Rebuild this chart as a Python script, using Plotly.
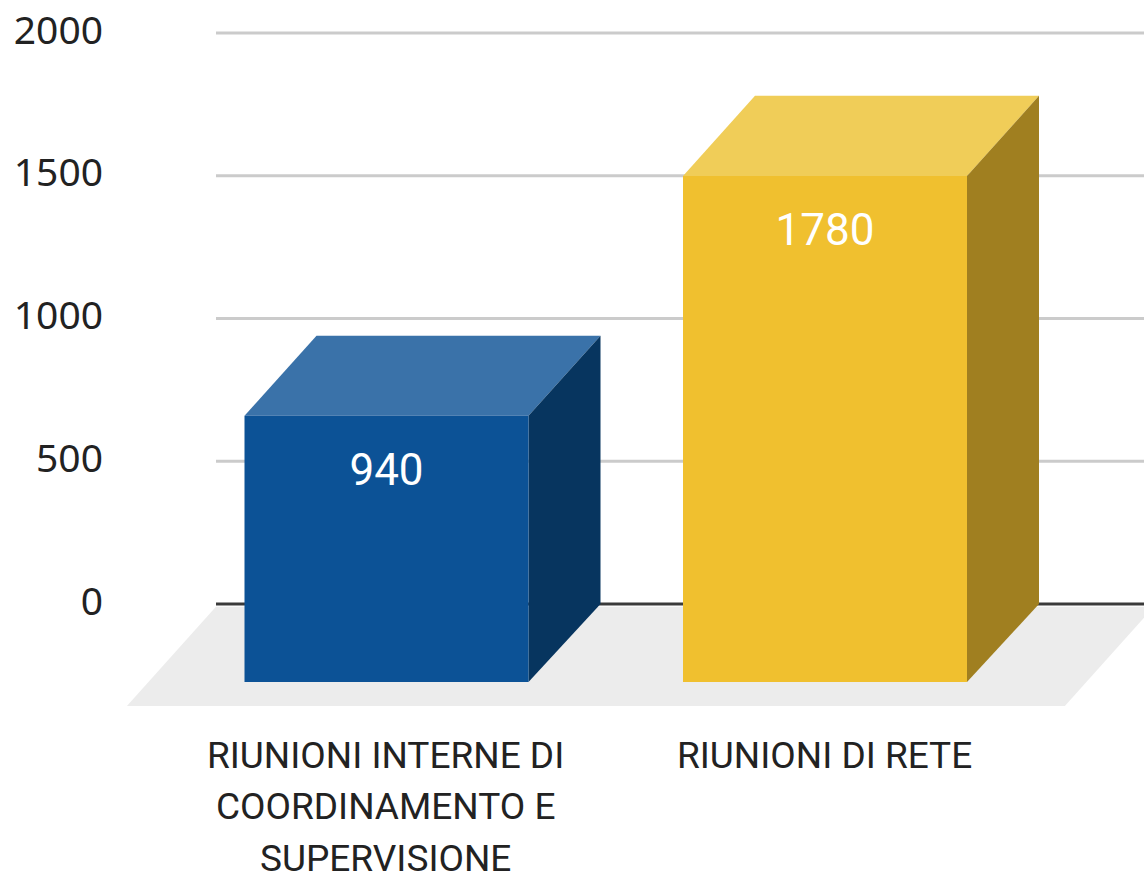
import plotly.graph_objects as go

categories = [["RIUNIONI INTERNE DI", "COORDINAMENTO E", "SUPERVISIONE"], ["RIUNIONI DI RETE"]]
values = [940, 1780]
y_ticks = [0, 500, 1000, 1500, 2000]

front_colors = ["#0c5296", "#f0c02f"]
side_colors = ["#07355f", "#a07f20"]
top_colors = ["#3a72a9", "#f0cd58"]

PX_PER_CAT = 438.5
PX_PER_VAL = 0.2855
WIDTH, HEIGHT = 1144, 881
BAR_W = 284 / PX_PER_CAT
DEPTH_X = 72 / PX_PER_CAT
DEPTH_TOP = 281
DEPTH_BOTTOM = 273

x_range = [-386.5 / PX_PER_CAT, (WIDTH - 386.5) / PX_PER_CAT]
y_range = [(604 - HEIGHT) / PX_PER_VAL, 604 / PX_PER_VAL]


def poly(xs, ys, color):
    return go.Scatter(x=xs + xs[:1], y=ys + ys[:1], mode="lines", fill="toself",
                      fillcolor=color, line=dict(width=0), hoverinfo="skip", showlegend=False)


fig = go.Figure()

# back-wall gridlines
GRID_LEFT = (216 - 386.5) / PX_PER_CAT
for t in y_ticks[1:]:
    fig.add_trace(go.Scatter(x=[GRID_LEFT, x_range[1]], y=[t, t], mode="lines",
                             line=dict(color="#cbcbcb", width=3), hoverinfo="skip", showlegend=False))

# floor
FLOOR_BACK = -10
FLOOR_FRONT = -357
fig.add_trace(poly([-0.389, 1.750, 1.547, -0.592],
                   [FLOOR_BACK, FLOOR_BACK, FLOOR_FRONT, FLOOR_FRONT], "#ececec"))
fig.add_trace(go.Scatter(x=[GRID_LEFT, x_range[1]], y=[0, 0], mode="lines",
                         line=dict(color="#3a3a3a", width=3), hoverinfo="skip", showlegend=False))

# 3D bars: the back face carries the value, the front face is offset by the depth
for i, v in enumerate(values):
    l, r = i - BAR_W / 2, i + BAR_W / 2
    fy0, fy1 = -DEPTH_BOTTOM, v - DEPTH_TOP
    fig.add_trace(poly([l, r, r + DEPTH_X, l + DEPTH_X], [fy1, fy1, v, v], top_colors[i]))
    fig.add_trace(poly([r, r + DEPTH_X, r + DEPTH_X, r], [fy0, 0, v, fy1], side_colors[i]))
    fig.add_trace(poly([l, r, r, l], [fy0, fy0, fy1, fy1], front_colors[i]))

# data labels
fig.add_trace(go.Scatter(x=list(range(len(values))), y=[v - DEPTH_TOP - 204 for v in values],
                         mode="text", text=[str(v) for v in values],
                         textposition="middle center",
                         textfont=dict(family="Roboto", size=44, color="#ffffff"),
                         hoverinfo="skip", showlegend=False))

# category labels, one annotation per line to keep the wide line spacing
annotations = []
for i, lines in enumerate(categories):
    for j, line in enumerate(lines):
        annotations.append(dict(x=i - 0.002, y=1 - (755 + j * 51.5) / HEIGHT, xref="x", yref="paper",
                                text=line, showarrow=False, xanchor="center", yanchor="middle",
                                font=dict(family="Roboto", size=37, color="#222222")))

fig.update_layout(
    width=WIDTH, height=HEIGHT,
    margin=dict(l=0, r=0, t=0, b=0),
    paper_bgcolor="#ffffff", plot_bgcolor="#ffffff",
    showlegend=False,
    annotations=annotations,
    xaxis=dict(range=x_range, domain=[0, 1], showgrid=False, zeroline=False, showline=False,
               showticklabels=False, ticks="", fixedrange=True),
    yaxis=dict(range=y_range, anchor="free", position=103 / WIDTH, showgrid=False, zeroline=False,
               showline=False, ticks="", tickmode="array", tickvals=y_ticks,
               ticktext=[str(t) for t in y_ticks], fixedrange=True, ticklabelshift=-3,
               tickfont=dict(family="Noto Sans", size=39, color="#222222")),
)

fig.write_html("out.html", config={"displayModeBar": False},
               post_script="document.body.style.margin='0';document.body.style.overflow='hidden';")
